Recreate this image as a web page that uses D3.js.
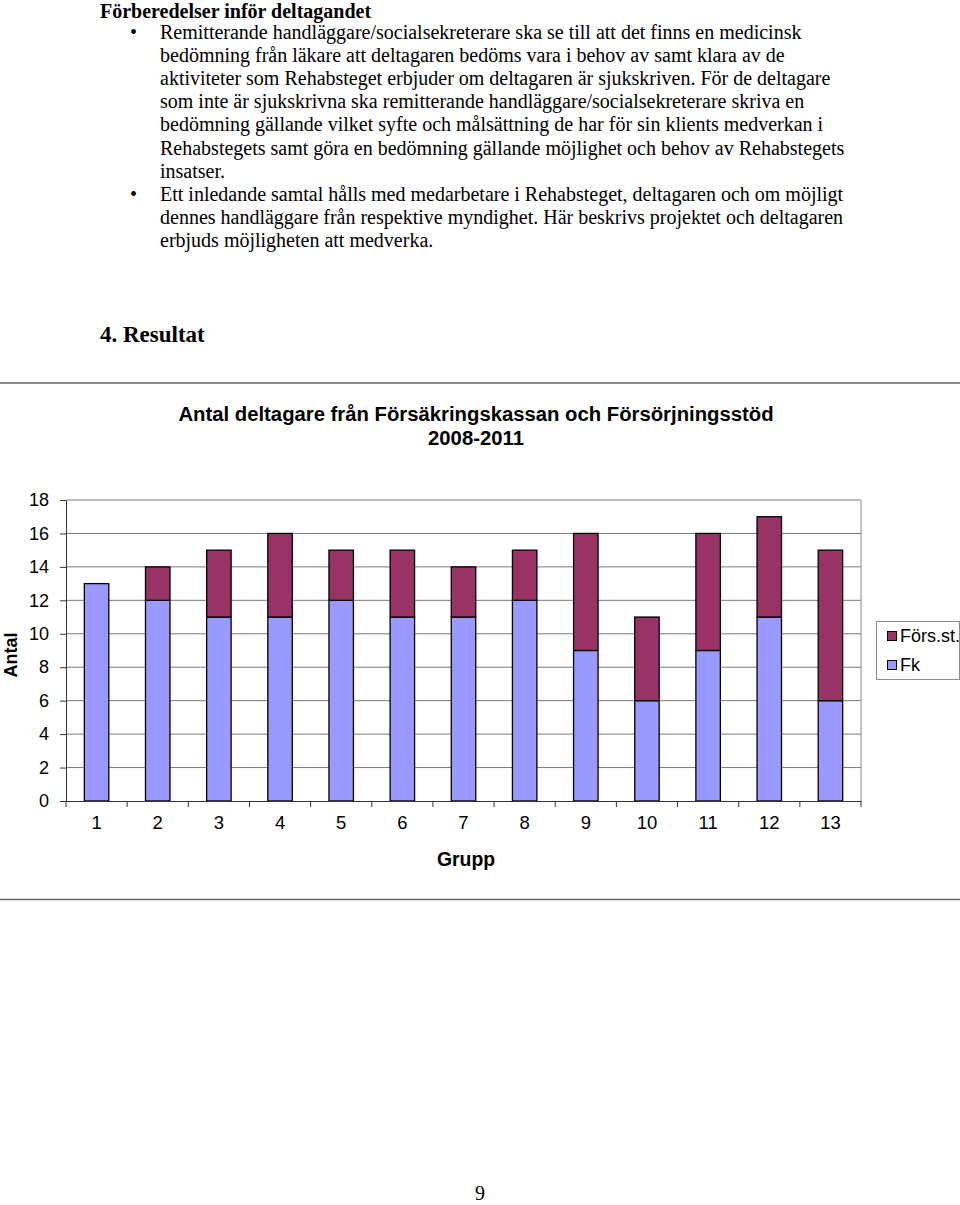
<!DOCTYPE html>
<html><head><meta charset="utf-8">
<script src="https://cdn.jsdelivr.net/npm/d3@7"></script>
<style>html,body{margin:0;padding:0;background:#fff;}svg{display:block;}</style>
</head><body>
<svg id="page" width="960" height="1205"></svg>
<script>
const groups = ["1","2","3","4","5","6","7","8","9","10","11","12","13"];
const fk    = [13,12,11,11,12,11,11,12,9,6,9,11,6];
const forss = [0,2,4,5,3,4,3,3,7,5,7,6,9];
const seriesNames = ["Förs.st.","Fk"];
const yTicks = [0,2,4,6,8,10,12,14,16,18];
const chartTitle = ["Antal deltagare från Försäkringskassan och Försörjningsstöd","2008-2011"];
const heading = "Förberedelser inför deltagandet";
const bullet1 = ["Remitterande handläggare/socialsekreterare ska se till att det finns en medicinsk",
"bedömning från läkare att deltagaren bedöms vara i behov av samt klara av de",
"aktiviteter som Rehabsteget erbjuder om deltagaren är sjukskriven. För de deltagare",
"som inte är sjukskrivna ska remitterande handläggare/socialsekreterare skriva en",
"bedömning gällande vilket syfte och målsättning de har för sin klients medverkan i",
"Rehabstegets samt göra en bedömning gällande möjlighet och behov av Rehabstegets",
"insatser."];
const bullet2 = ["Ett inledande samtal hålls med medarbetare i Rehabsteget, deltagaren och om möjligt",
"dennes handläggare från respektive myndighet. Här beskrivs projektet och deltagaren",
"erbjuds möjligheten att medverka."];

const svg = d3.select("#page");
const serif = "'Liberation Serif','Times New Roman',serif";
const sans = "'Liberation Sans',Arial,sans-serif";

// Document text
svg.append("text").attr("x",100).attr("y",18).attr("font-family",serif).attr("font-size",20).attr("font-weight","bold").text(heading);
let lineY = 38.5;
[bullet1, bullet2].forEach(lines => {
  svg.append("text").attr("x",130).attr("y",lineY).attr("font-family",serif).attr("font-size",20).text("•");
  lines.forEach(l => {
    svg.append("text").attr("x",160).attr("y",lineY).attr("font-family",serif).attr("font-size",20).text(l);
    lineY += 23.2;
  });
});
svg.append("text").attr("x",100).attr("y",342).attr("font-family",serif).attr("font-size",23).attr("font-weight","bold").text("4. Resultat");
svg.append("text").attr("x",480).attr("y",1200).attr("text-anchor","middle").attr("font-family",serif).attr("font-size",20).text("9");

// Rules
svg.append("line").attr("x1",0).attr("x2",960).attr("y1",383).attr("y2",383).attr("stroke","#666").attr("stroke-width",1.5);
svg.append("line").attr("x1",0).attr("x2",960).attr("y1",899.5).attr("y2",899.5).attr("stroke","#666").attr("stroke-width",1.5);

// Chart
const x = d3.scaleBand().domain(groups).range([66,861]).paddingInner(0).paddingOuter(0);
const y = d3.scaleLinear().domain([0,18]).range([801,500]);

const ct = svg.append("text").attr("text-anchor","middle").attr("font-family",sans).attr("font-size",20.3).attr("font-weight","bold");
ct.append("tspan").attr("x",476).attr("y",421).text(chartTitle[0]);
ct.append("tspan").attr("x",476).attr("y",445).text(chartTitle[1]);

// gridlines
svg.append("g").selectAll("line").data(yTicks.filter(d=>d>0)).join("line")
  .attr("x1",66).attr("x2",861).attr("y1",d=>y(d)).attr("y2",d=>y(d))
  .attr("stroke","#7a7a7a").attr("stroke-width",1);
// right frame
svg.append("line").attr("x1",861).attr("x2",861).attr("y1",500).attr("y2",801).attr("stroke","#8a8a8a").attr("stroke-width",1);

// bars
const bw = x.bandwidth()*0.4;
const barG = svg.append("g");
barG.selectAll("rect.fk").data(groups).join("rect").attr("class","fk")
  .attr("x",(d)=>x(d)+(x.bandwidth()-bw)/2).attr("width",bw)
  .attr("y",(d,i)=>y(fk[i])).attr("height",(d,i)=>y(0)-y(fk[i]))
  .attr("fill","#9999ff").attr("stroke","#000").attr("stroke-width",1.3);
barG.selectAll("rect.fs").data(groups.filter((d,i)=>forss[i]>0)).join("rect").attr("class","fs")
  .attr("x",(d)=>x(d)+(x.bandwidth()-bw)/2).attr("width",bw)
  .attr("y",(d)=>{const i=groups.indexOf(d);return y(fk[i]+forss[i]);})
  .attr("height",(d)=>{const i=groups.indexOf(d);return y(fk[i])-y(fk[i]+forss[i]);})
  .attr("fill","#993366").attr("stroke","#000").attr("stroke-width",1.3);

// axes
const yAxis = svg.append("g").attr("transform","translate(66,0)")
  .call(d3.axisLeft(y).tickValues(yTicks).tickSize(6).tickSizeOuter(0).tickPadding(11));
yAxis.selectAll("text").attr("font-family",sans).attr("font-size",18).attr("fill","#000");
yAxis.selectAll("line,path").attr("stroke","#333");

const xAxis = svg.append("g").attr("transform","translate(0,801)")
  .call(d3.axisBottom(x).tickSize(0).tickPadding(15));
xAxis.selectAll("text").attr("font-family",sans).attr("font-size",18.5).attr("fill","#000");
xAxis.select("path").attr("stroke","#333");
// boundary ticks
svg.append("g").selectAll("line").data(groups.concat(["end"])).join("line")
  .attr("x1",(d,i)=>66+i*x.step()).attr("x2",(d,i)=>66+i*x.step())
  .attr("y1",801).attr("y2",807).attr("stroke","#333");

svg.append("text").attr("x",466).attr("y",866).attr("text-anchor","middle").attr("font-family",sans).attr("font-size",19.4).attr("font-weight","bold").text("Grupp");
svg.append("text").attr("transform","translate(16.5,655) rotate(-90)").attr("text-anchor","middle").attr("font-family",sans).attr("font-size",18).attr("font-weight","bold").text("Antal");

// legend
const lg = svg.append("g");
lg.append("rect").attr("x",876.5).attr("y",621.5).attr("width",83).attr("height",58).attr("fill","#fff").attr("stroke","#8a8a8a");
const legColors = ["#993366","#9999ff"];
seriesNames.forEach((n,i)=>{
  lg.append("rect").attr("x",887.5).attr("y",631.5+i*29).attr("width",9).attr("height",9).attr("fill",legColors[i]).attr("stroke","#000").attr("stroke-width",1);
  lg.append("text").attr("x",900).attr("y",642+i*29).attr("font-family",sans).attr("font-size",18).text(n);
});
</script>
</body></html>
